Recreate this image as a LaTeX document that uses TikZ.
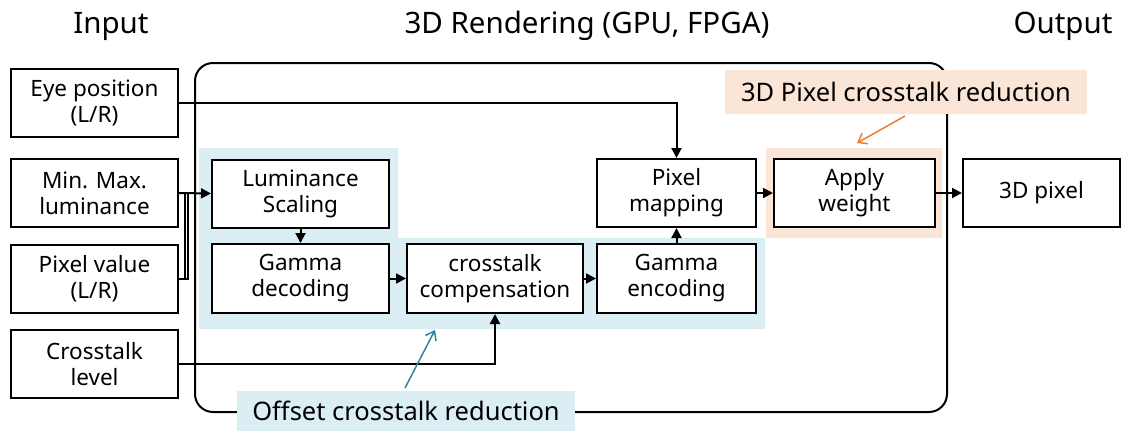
\documentclass[tikz,border=0pt]{standalone}
\usepackage{fontspec}
\setmainfont{Noto Sans}
\usetikzlibrary{arrows.meta}
\definecolor{lblue}{HTML}{DAEEF3}
\definecolor{lorange}{HTML}{FBE5D6}
\definecolor{teal2}{HTML}{31849B}
\definecolor{orng}{HTML}{ED7D31}
\begin{document}
\begin{tikzpicture}[x=1pt,y=-1pt,
  box/.style={draw, line width=2pt, fill=white, align=center, inner sep=0pt,
    font=\fontsize{22.5}{26}\selectfont, minimum height=68pt},
  conn/.style={line width=2pt, -{Triangle[length=10pt,width=10pt]}},
  plain/.style={line width=2pt},
  title/.style={font=\fontsize{29.5}{32}\selectfont, anchor=base},
  note/.style={font=\fontsize{25.5}{28}\selectfont, inner sep=0pt}]
\useasboundingbox (0,0) rectangle (1133,431);
% big rendering frame
\draw[plain, rounded corners=18pt] (195,63) rectangle (947,412);
% highlight regions
\fill[lblue] (199,148) -- (398,148) -- (398,238) -- (765,238) -- (765,329) -- (199,329) -- cycle;
\fill[lorange] (766,148) rectangle (942,238);
% titles
\node[title] (tin) at (111,33) {Input};
\node[title] (tren) at (587,33) {3D Rendering (GPU, FPGA)};
\node[title] (tout) at (1063,33) {Output};
% input boxes
\node[box, minimum width=167pt] (eye) at (94.5,103) {Eye position\\(L/R)};
\node[box, minimum width=167pt] (mm) at (94.5,193) {Min. Max.\\luminance};
\node[box, minimum width=167pt] (pv) at (94.5,279) {Pixel value\\(L/R)};
\node[box, minimum width=167pt] (ct) at (94.5,364) {Crosstalk\\level};
% processing boxes
\node[box, minimum width=177pt] (lum) at (300.5,193.5) {Luminance\\Scaling};
\node[box, minimum width=177pt, minimum height=69pt] (gd) at (300.5,278.5) {Gamma\\decoding};
\node[box, minimum width=176pt, minimum height=69pt] (cc) at (495,278.5) {crosstalk\\compensation};
\node[box, minimum width=159pt, minimum height=69pt] (ge) at (676.5,278.5) {Gamma\\encoding};
\node[box, minimum width=159pt] (pm) at (676.5,193) {Pixel\\mapping};
\node[box, minimum width=161pt] (aw) at (854.5,193) {Apply\\weight};
\node[box, minimum width=157pt] (out) at (1041.5,193) {3D pixel};
% connectors
\coordinate (j1) at (188,193);
\coordinate (j2) at (185,193);
\draw[conn] (mm.east) -- (lum.west);
\draw[plain] (pv.east) -| (j1);
\draw[plain] (j2) -- (j2 |- pv.east);
\draw[conn] (eye.east) -| (pm.north);
\draw[conn] (lum.south) -- (gd.north);
\draw[conn] (gd.east) -- (cc.west);
\draw[conn] (cc.east) -- (ge.west);
\draw[conn] (ge.north) -- (pm.south);
\draw[conn] (pm.east) -- (aw.west);
\draw[conn] (aw.east) -- (out.west);
\draw[conn] (ct.east) -| (cc.south);
% annotation labels
\node[note, fill=lorange, minimum width=362pt, minimum height=44pt] (lab3d) at (906,92) {3D Pixel crosstalk reduction};
\node[note, fill=lblue, minimum width=338pt, minimum height=41pt] (laboff) at (406,411) {Offset crosstalk reduction};
\coordinate (oa1) at (905,116);
\coordinate (oa2) at (857,143);
\coordinate (ta1) at (405,388);
\coordinate (ta2) at (435,330);
\draw[orng, line width=1.5pt, -{Straight Barb[length=8pt,width=12pt]}] (oa1) -- (oa2);
\draw[teal2, line width=1.5pt, -{Straight Barb[length=8pt,width=12pt]}] (ta1) -- (ta2);
\end{tikzpicture}
\end{document}
